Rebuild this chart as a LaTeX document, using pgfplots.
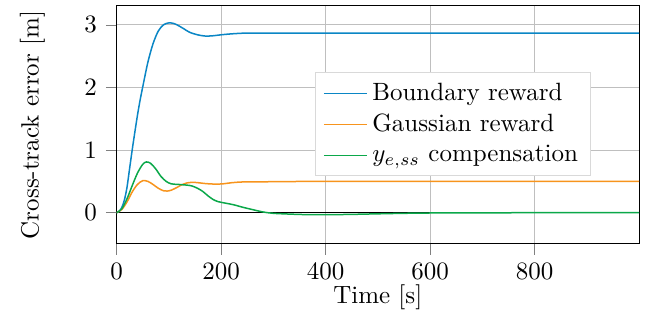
\documentclass[border=0pt]{standalone}
\usepackage{pgfplots}
\pgfplotsset{compat=1.18}
\definecolor{cBlue}{HTML}{0A86C5}
\definecolor{cOrange}{HTML}{F7941D}
\definecolor{cGreen}{HTML}{0BA84A}
\begin{document}
\begin{tikzpicture}
\begin{axis}[
  name=ax,
  scale only axis,
  width=209pt, height=95.2pt,
  xmin=0, xmax=1000, ymin=-0.5, ymax=3.3,
  xtick={0,200,400,600,800},
  ytick={0,1,2,3},
  tick align=outside,
  xtick pos=left, ytick pos=left,
  grid=major,
  major grid style={gray!50, line width=0.4pt},
  xlabel={Time [s]},
  ylabel={Cross-track error [m]},
  xlabel shift=-5pt,
  ylabel shift=9pt,
  legend style={at={(0.908,0.504)}, anchor=east, draw=black!15, fill=white, cells={anchor=west}},
  every axis plot/.append style={line width=0.6pt},
]
\draw[black, line width=0.5pt] (axis cs:0,0) -- (axis cs:1000,0);
\addplot[cBlue, smooth] coordinates {
(0,0) (5,0.02) (10,0.08) (15,0.2) (20,0.4) (25,0.7) (30,1.0) (35,1.28) (40,1.55) (45,1.79) (50,2.0) (60,2.4) (70,2.7) (80,2.9) (90,3.0) (100,3.03) (110,3.02) (120,2.98) (130,2.93) (140,2.88) (155,2.84) (170,2.82) (185,2.825) (200,2.84) (220,2.855) (250,2.868) (300,2.866) (400,2.865) (600,2.865) (800,2.865) (1000,2.865)
};
\addlegendentry{Boundary reward}
\addplot[cOrange, smooth] coordinates {
(0,0) (10,0.05) (20,0.17) (30,0.33) (40,0.45) (50,0.51) (60,0.5) (70,0.45) (80,0.39) (90,0.35) (97,0.345) (105,0.36) (115,0.4) (125,0.445) (135,0.475) (145,0.484) (155,0.48) (170,0.465) (190,0.456) (205,0.462) (220,0.478) (240,0.49) (270,0.49) (300,0.495) (400,0.5) (600,0.5) (800,0.5) (1000,0.5)
};
\addlegendentry{Gaussian reward}
\addplot[cGreen, smooth] coordinates {
(0,0) (10,0.06) (20,0.22) (30,0.43) (40,0.63) (50,0.77) (57,0.81) (65,0.79) (75,0.7) (85,0.58) (95,0.5) (105,0.46) (120,0.45) (135,0.44) (145,0.425) (155,0.39) (165,0.34) (175,0.27) (185,0.21) (195,0.175) (210,0.15) (225,0.125) (240,0.09) (260,0.05) (280,0.012) (300,-0.01) (330,-0.022) (360,-0.03) (400,-0.032) (450,-0.027) (500,-0.018) (550,-0.01) (600,-0.005) (700,-0.002) (850,0) (1000,0)
};
\addlegendentry{$y_{e,ss}$ compensation}
\end{axis}
\path (ax.south west) ++(-46.6pt,-30.4pt) rectangle ++(258.4pt,128pt);
\end{tikzpicture}
\end{document}
